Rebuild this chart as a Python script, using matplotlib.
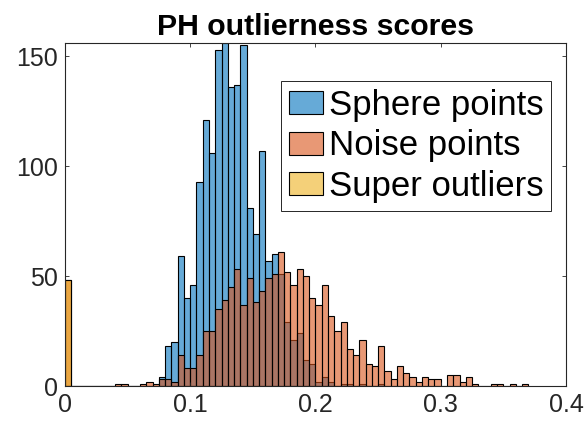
import numpy as np
import matplotlib
matplotlib.use('Agg')
from matplotlib import pyplot as plt

plt.rcParams['font.family'] = ['Liberation Sans', 'DejaVu Sans']

# histogram counts, bins of width 0.005 starting at 0
bin_width = 0.005
sphere_counts = [0, 0, 0, 0, 0, 0, 0, 0, 0, 0,
                 0, 0, 0, 0, 0, 4, 18, 20, 59, 40,
                 46, 93, 121, 106, 153, 156, 136, 137, 155, 81,
                 69, 107, 57, 60, 51, 29, 21, 24, 12, 10,
                 2, 4, 2, 0, 1, 1, 0, 1, 0, 0,
                 1]
noise_counts = [48, 0, 0, 0, 0, 0, 0, 0, 1, 1,
                0, 0, 1, 2, 1, 3, 3, 2, 14, 8,
                8, 14, 25, 25, 35, 39, 45, 53, 37, 49,
                38, 43, 49, 51, 61, 52, 46, 53, 50, 40,
                37, 46, 32, 25, 29, 17, 14, 21, 10, 9,
                18, 7, 3, 9, 6, 4, 2, 4, 3, 3,
                0, 5, 5, 2, 4, 1, 0, 0, 1, 1,
                0, 1, 0, 1]
super_counts = [48]

labels = ['Sphere points', 'Noise points', 'Super outliers']
colors = [(0.0, 0.447, 0.741, 0.6), (0.85, 0.325, 0.098, 0.6), (0.929, 0.694, 0.125, 0.6)]

fig = plt.figure(figsize=(5.87, 4.21), dpi=100)
ax = fig.add_axes([0.1107, 0.0831, 0.8535, 0.8147])

for counts, col, lab in zip([sphere_counts, noise_counts, super_counts], colors, labels):
    lefts = np.arange(len(counts)) * bin_width
    ax.bar(lefts, counts, width=bin_width, align='edge', color=col,
           edgecolor='black', linewidth=0.8, label=lab)

ax.set_xlim(0, 0.4)
ax.set_ylim(0, 156)
ax.set_xticks([0, 0.1, 0.2, 0.3, 0.4])
ax.set_xticklabels(['0', '0.1', '0.2', '0.3', '0.4'])
ax.set_yticks([0, 50, 100, 150])
ax.tick_params(direction='in', length=3, width=0.6, top=True, right=True,
               labelsize=18, colors='0.15', pad=5)
for s in ax.spines.values():
    s.set_color('0.15')
    s.set_linewidth(0.8)

ax.set_title('PH outlierness scores', fontsize=21.8, fontweight='bold', pad=6)

leg = ax.legend(loc='upper right', bbox_to_anchor=(0.970, 0.889), borderaxespad=0,
                fontsize=25, handlelength=1.0, handleheight=0.65, handletextpad=0.15,
                labelspacing=0.22, borderpad=0.22, fancybox=False, framealpha=1)
leg.get_frame().set_edgecolor('0.15')
leg.get_frame().set_linewidth(0.7)

fig.savefig('out.png', dpi=100)
